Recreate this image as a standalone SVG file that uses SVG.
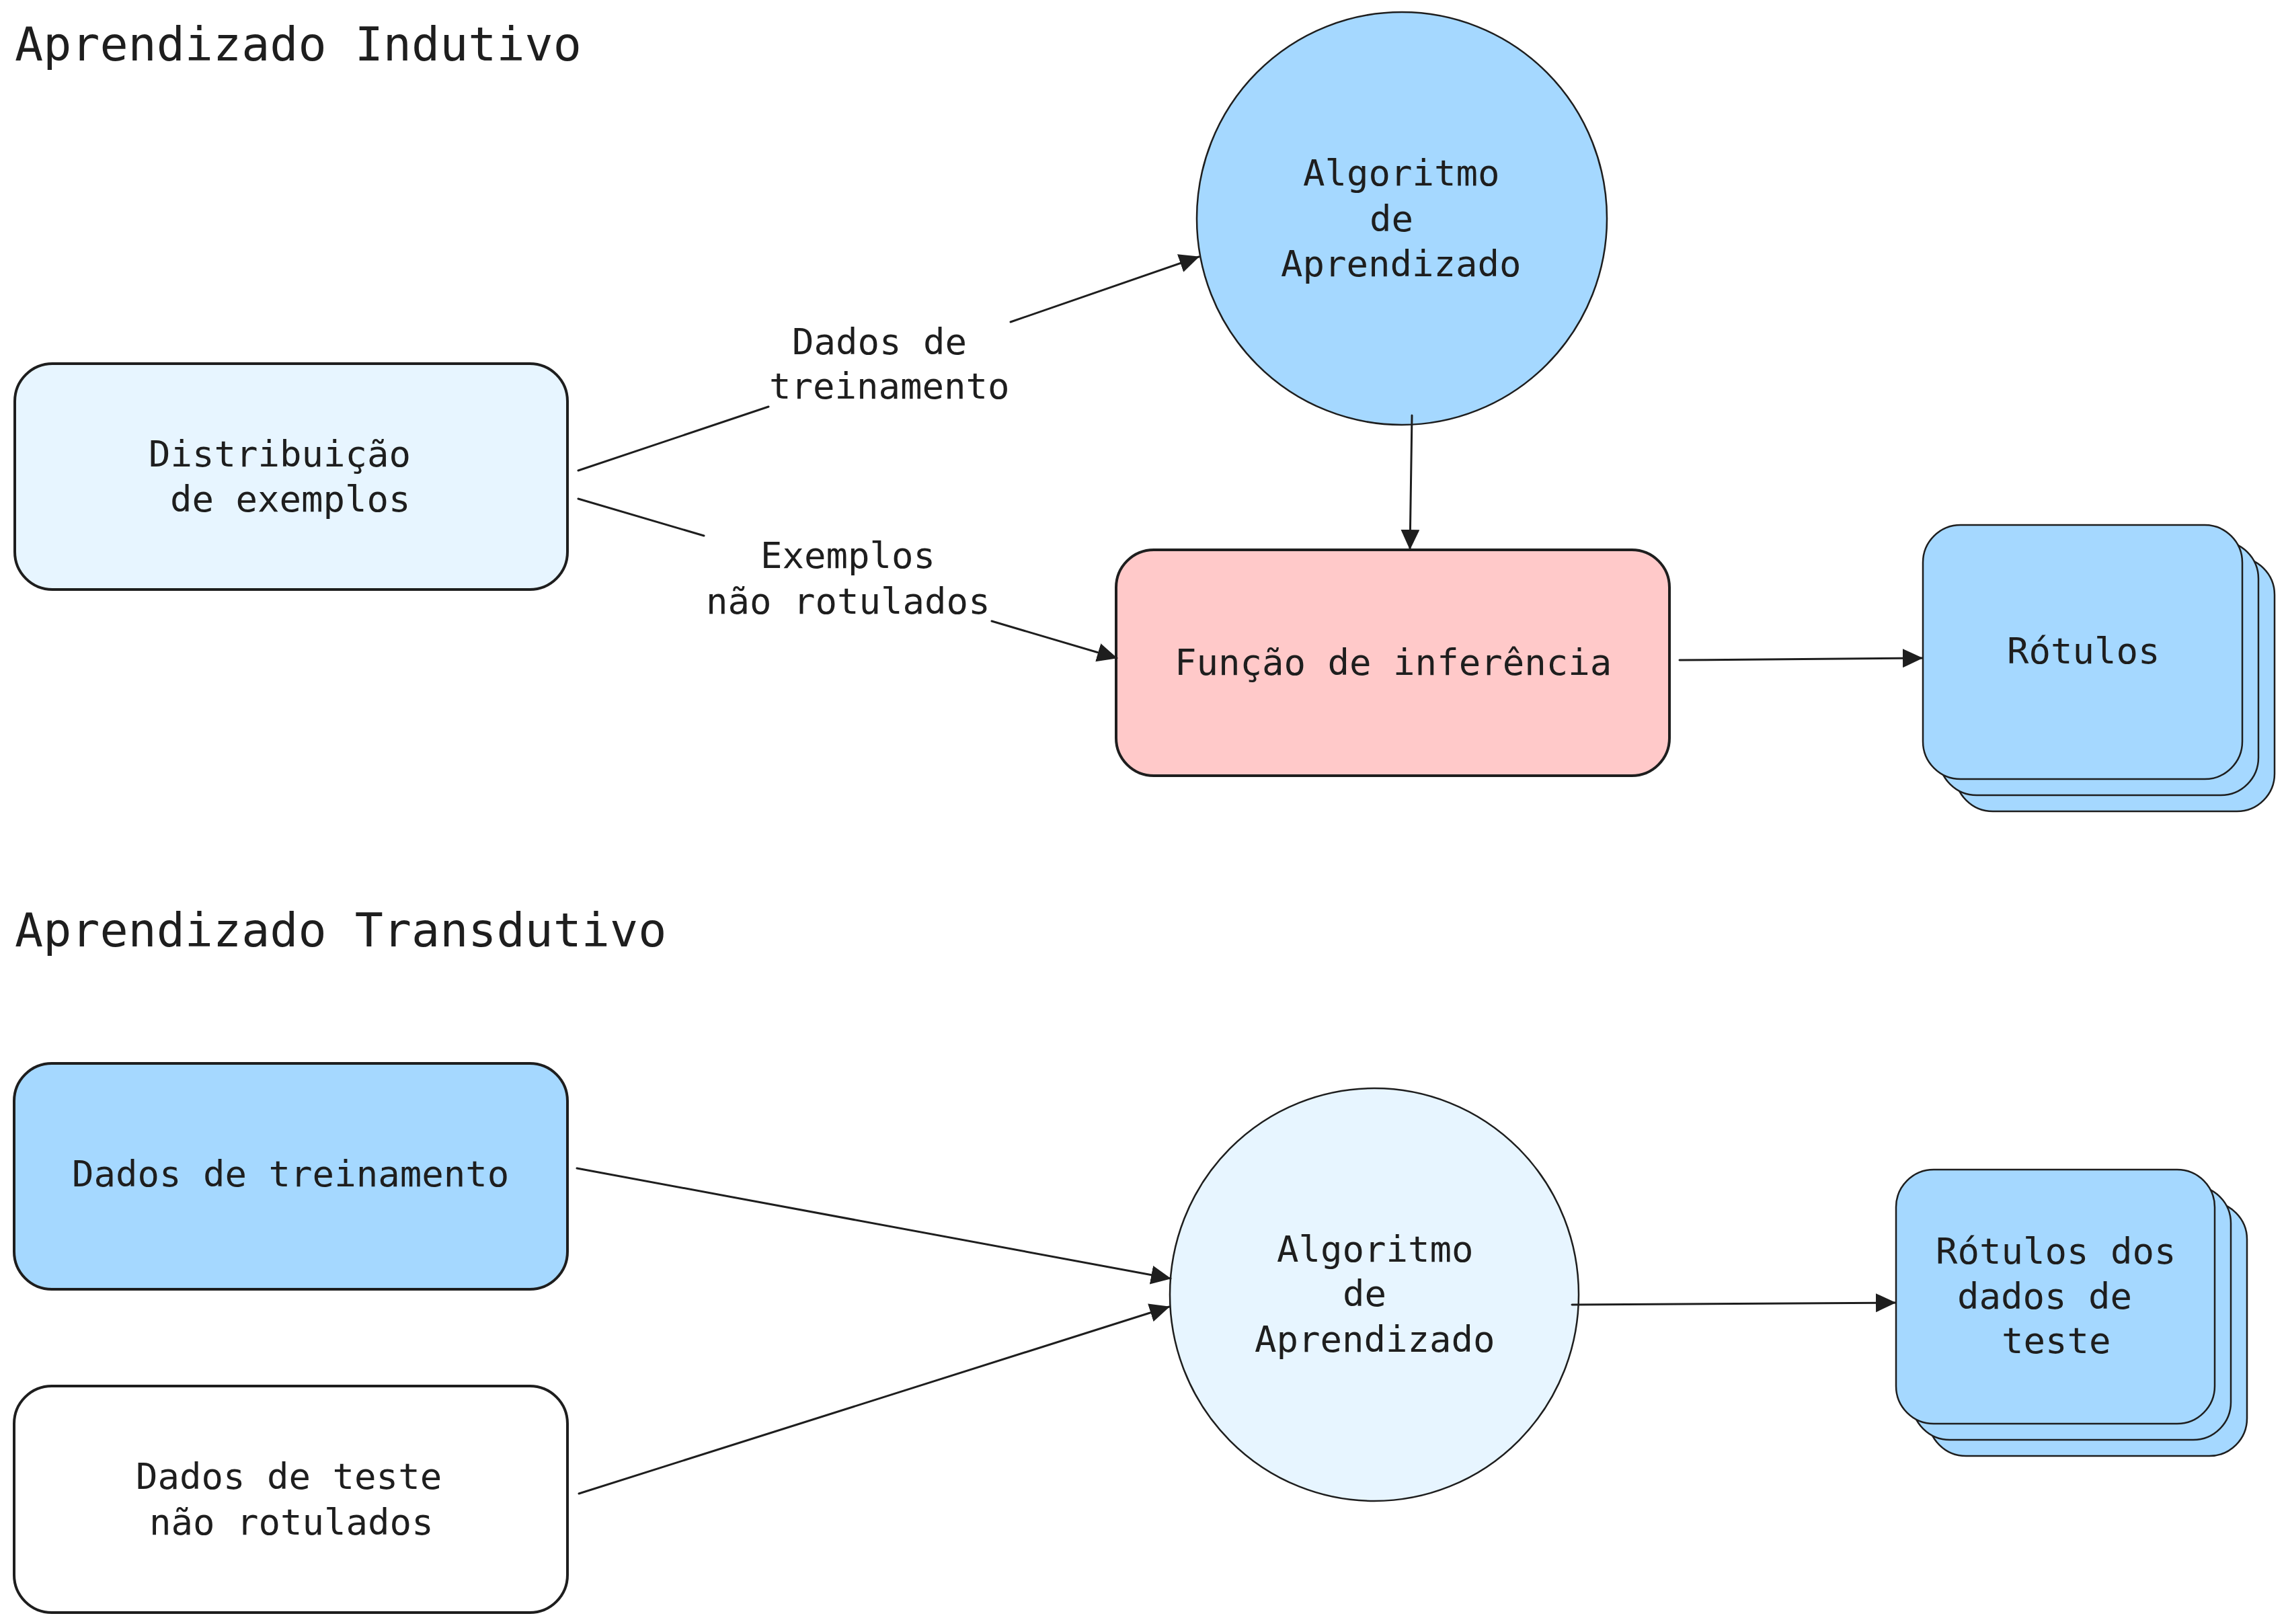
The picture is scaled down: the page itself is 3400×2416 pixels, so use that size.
<svg xmlns="http://www.w3.org/2000/svg" width="3400" height="2416" viewBox="0 0 3400 2416">
<style>
text{font-family:"DejaVu Sans Mono","Liberation Mono",monospace;fill:#1e1e1e;font-size:54px}
.title{font-size:70px}
.box{stroke:#1e1e1e;stroke-width:4}
.thin{stroke:#1e1e1e;stroke-width:2.5}
.edge{stroke:#1e1e1e;stroke-width:3;fill:none;stroke-linecap:round}
.lb{fill:#e7f5ff}.bl{fill:#a5d8ff}.pk{fill:#ffc9c9}.wh{fill:#ffffff}
</style>
<defs>
<marker id="ah" viewBox="0 0 30 28" refX="29" refY="14" markerWidth="30" markerHeight="28" markerUnits="userSpaceOnUse" orient="auto">
<path d="M0,0 L30,14 L0,28 Z" fill="#1e1e1e"/>
</marker>
</defs>
<rect width="3400" height="2416" fill="#ffffff"/>

<g id="title-indutivo"><text class="title" x="22" y="90">Aprendizado Indutivo</text></g>
<g id="title-transdutivo"><text class="title" x="22" y="1408">Aprendizado Transdutivo</text></g>

<g id="distribuicao">
<rect class="box lb" x="22" y="541" width="822" height="336" rx="56"/>
<text x="221" y="694">Distribuição</text>
<text x="253" y="761">de exemplos</text>
</g>

<g id="algoritmo1">
<ellipse class="thin bl" cx="2085" cy="325" rx="305" ry="307"/>
<text x="1938" y="276">Algoritmo</text>
<text x="2037" y="344">de</text>
<text x="1905" y="411">Aprendizado</text>
</g>

<g id="funcao">
<rect class="box pk" x="1660" y="818" width="823" height="336" rx="56"/>
<text x="1747" y="1004">Função de inferência</text>
</g>

<g id="rotulos">
<rect class="thin bl" x="2908" y="829" width="475" height="378" rx="56"/>
<rect class="thin bl" x="2884" y="805" width="475" height="378" rx="56"/>
<rect class="thin bl" x="2860" y="781" width="475" height="378" rx="56"/>
<text x="2985" y="987">Rótulos</text>
</g>

<g id="dados-treinamento">
<rect class="box bl" x="21" y="1582" width="823" height="336" rx="56"/>
<text x="107" y="1765">Dados de treinamento</text>
</g>

<g id="dados-teste">
<rect class="box wh" x="21" y="2062" width="823" height="337" rx="56"/>
<text x="202" y="2215">Dados de teste</text>
<text x="222" y="2283">não rotulados</text>
</g>

<g id="algoritmo2">
<ellipse class="thin lb" cx="2044" cy="1926" rx="304" ry="307"/>
<text x="1899" y="1877">Algoritmo</text>
<text x="1997" y="1943">de</text>
<text x="1866" y="2011">Aprendizado</text>
</g>

<g id="rotulos-teste">
<rect class="thin bl" x="2868" y="1788" width="474" height="378" rx="56"/>
<rect class="thin bl" x="2844" y="1764" width="474" height="378" rx="56"/>
<rect class="thin bl" x="2820" y="1740" width="474" height="378" rx="56"/>
<text x="2879" y="1880">Rótulos dos</text>
<text x="2911" y="1947">dados de</text>
<text x="2977" y="2013">teste</text>
</g>

<g id="connectors">
<path class="edge" d="M860,700 L1143,605"/>
<path class="edge" d="M1503,479 L1783,382" marker-end="url(#ah)"/>
<text x="1178" y="527">Dados de</text>
<text x="1144" y="593">treinamento</text>
<path class="edge" d="M860,742 L1047,797"/>
<path class="edge" d="M1475,924 L1661,979" marker-end="url(#ah)"/>
<text x="1131" y="845">Exemplos</text>
<text x="1050" y="913">não rotulados</text>
<path class="edge" d="M2100,618 L2097,817" marker-end="url(#ah)"/>
<path class="edge" d="M2498,982 L2859,979" marker-end="url(#ah)"/>
<path class="edge" d="M858,1738 L1741,1902" marker-end="url(#ah)"/>
<path class="edge" d="M861,2222 L1739,1944" marker-end="url(#ah)"/>
<path class="edge" d="M2338,1941 L2819,1938" marker-end="url(#ah)"/>
</g>
</svg>
